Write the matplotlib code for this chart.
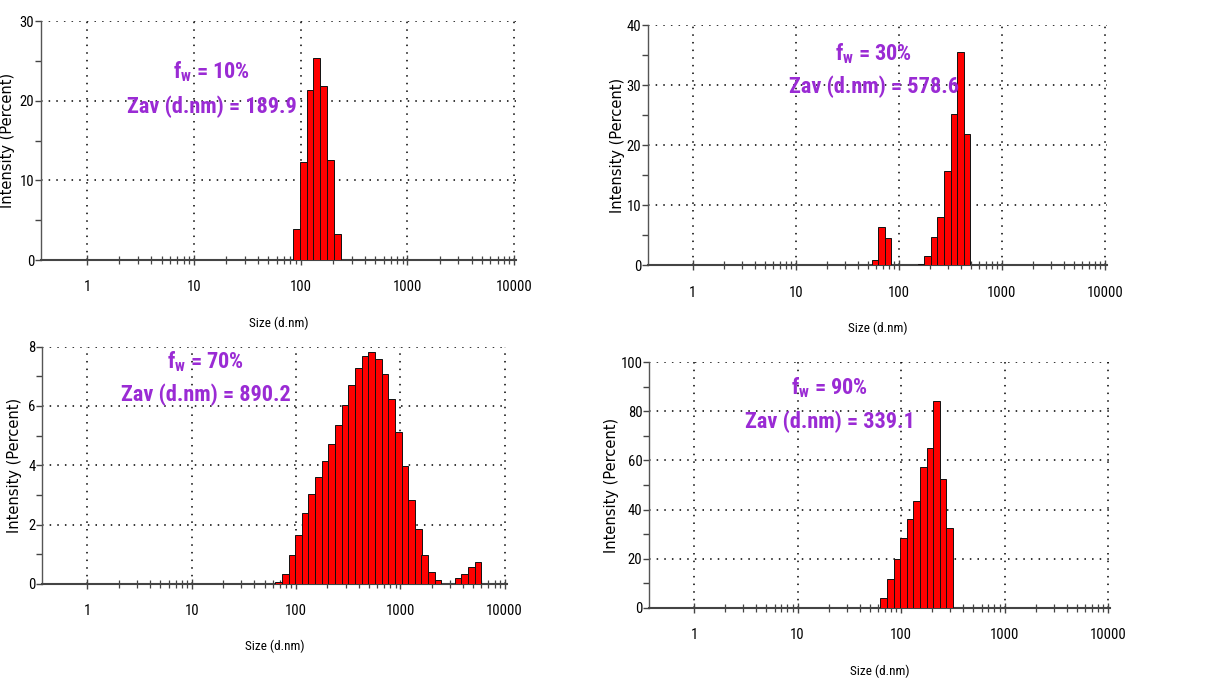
import numpy as np
import matplotlib
matplotlib.use("Agg")
from matplotlib import pyplot as plt
from matplotlib import font_manager
from matplotlib.ticker import MultipleLocator, FixedLocator, NullFormatter

# Malvern size classes (d.nm) and intensity (%) for each sample
sizes_10 = [91.28, 105.7, 122.4, 141.8, 164.2, 190.1, 220.2]
inten_10 = [3.9, 12.3, 21.3, 25.3, 21.9, 12.5, 3.3]

sizes_30 = [58.77, 68.06, 78.82, 164.2, 190.1, 220.2, 255.0, 295.3, 342.0, 396.1, 458.7]
inten_30 = [0.9, 6.4, 4.5, 0.2, 1.6, 4.8, 8.0, 15.8, 25.2, 35.5, 21.8]

sizes_70 = [68.06, 78.82, 91.28, 105.7, 122.4, 141.8, 164.2, 190.1, 220.2, 255.0,
            295.3, 342.0, 396.1, 458.7, 531.2, 615.1, 712.4, 825.0, 955.4, 1106,
            1281, 1484, 1718, 1990, 2305, 3580, 4145, 4801, 5560]
inten_70 = [0.05, 0.35, 0.98, 1.65, 2.40, 3.03, 3.62, 4.16, 4.73, 5.37,
            6.04, 6.72, 7.29, 7.70, 7.81, 7.57, 7.09, 6.24, 5.13, 3.99,
            2.84, 1.84, 0.98, 0.39, 0.13, 0.20, 0.35, 0.58, 0.75]

sizes_90 = [68.06, 78.82, 91.28, 105.7, 122.4, 141.8, 164.2, 190.1, 220.2, 255.0, 295.3]
inten_90 = [4.1, 11.8, 19.8, 28.6, 36.2, 43.4, 57.3, 65.0, 84.4, 52.5, 32.6]

fw_labels = ["10%", "30%", "70%", "90%"]
zav_labels = ["189.9", "578.6", "890.2", "339.1"]
ymax = [30, 40, 8, 100]
ymajor = [10, 10, 2, 20]

installed = {f.name for f in font_manager.fontManager.ttflist}
narrow = "DejaVu Sans"
for name in ["Liberation Sans Narrow", "Roboto Condensed", "DejaVu Sans Condensed",
             "Liberation Sans", "Arial"]:
    if name in installed:
        narrow = name
        break

purple = "#9A2BD4"
ratio = (10000 / 0.4) ** (1 / 69)
half = np.sqrt(ratio)
decades = [1, 10, 100, 1000, 10000]
minors = [m * d for d in decades[:-1] for m in range(2, 10)]

fig = plt.figure(figsize=(12.16, 6.79), dpi=100)

panels = [
    # axes rect, text x, text y1, text y2, ylabel x, xlabel y
    ([0.0337, 0.617, 0.391, 0.352], 0.359, 0.787, 0.640, -0.055, -0.235),
    ([0.533, 0.609, 0.3775, 0.354], 0.492, 0.882, 0.745, -0.051, -0.235),
    ([0.0348, 0.140, 0.382, 0.3495], 0.352, 0.937, 0.796, -0.044, -0.235),
    ([0.534, 0.1046, 0.379, 0.362], 0.392, 0.895, 0.758, -0.066, -0.23),
]
data = [(sizes_10, inten_10), (sizes_30, inten_30), (sizes_70, inten_70), (sizes_90, inten_90)]

for i, (rect, tx, ty1, ty2, ylx, xly) in enumerate(panels):
    ax = fig.add_axes(rect)
    s, h = data[i]
    s = np.array(s)
    lo = s / half
    hi = s * half
    ax.bar(lo, h, width=hi - lo, align="edge", color="#FF0000",
           edgecolor="#111111", linewidth=0.7, zorder=3)

    ax.set_xscale("log")
    ax.set_xlim(0.37, 10500)
    ax.set_ylim(0, ymax[i])

    ax.xaxis.set_major_locator(FixedLocator(decades))
    ax.xaxis.set_minor_locator(FixedLocator(minors))
    ax.xaxis.set_minor_formatter(NullFormatter())
    ax.set_xticklabels([str(d) for d in decades])
    ax.yaxis.set_major_locator(MultipleLocator(ymajor[i]))
    ax.yaxis.set_minor_locator(MultipleLocator(ymajor[i] / 2))

    ax.grid(True, which="major", color="black", linestyle=(0, (1, 4)), linewidth=1.1)
    ax.set_axisbelow(True)

    for sp in ["top", "right"]:
        ax.spines[sp].set_visible(False)
    ax.spines["left"].set_color("#555555")
    ax.spines["bottom"].set_color("#444444")
    ax.spines["left"].set_linewidth(1.0)
    ax.spines["bottom"].set_linewidth(1.5)

    ax.tick_params(axis="x", which="major", direction="inout", length=7, width=1.0,
                   color="#444444", pad=11)
    ax.tick_params(axis="x", which="minor", direction="inout", length=6, width=0.9,
                   color="#444444")
    ax.tick_params(axis="y", which="both", direction="out", length=4, width=1.0,
                   color="#444444", pad=1)

    for lab in ax.get_xticklabels() + ax.get_yticklabels():
        lab.set_fontfamily(narrow)
        lab.set_fontsize(10.5)

    ax.set_xlabel("Size (d.nm)", fontfamily=narrow, fontsize=9.5)
    ax.xaxis.set_label_coords(0.5, xly)
    ax.set_ylabel("Intensity (Percent)", fontfamily="DejaVu Sans", fontsize=10.5)
    ax.yaxis.set_label_coords(ylx, 0.5)

    ax.text(tx, ty1, r"f$_{\mathregular{w}}$ = " + fw_labels[i], transform=ax.transAxes,
            ha="center", va="center", color=purple, fontsize=16, fontweight="bold",
            fontfamily=narrow, zorder=5)
    ax.text(tx, ty2, "Zav (d.nm) = " + zav_labels[i], transform=ax.transAxes,
            ha="center", va="center", color=purple, fontsize=16, fontweight="bold",
            fontfamily=narrow, zorder=5)

fig.savefig("out.png", dpi=100)
